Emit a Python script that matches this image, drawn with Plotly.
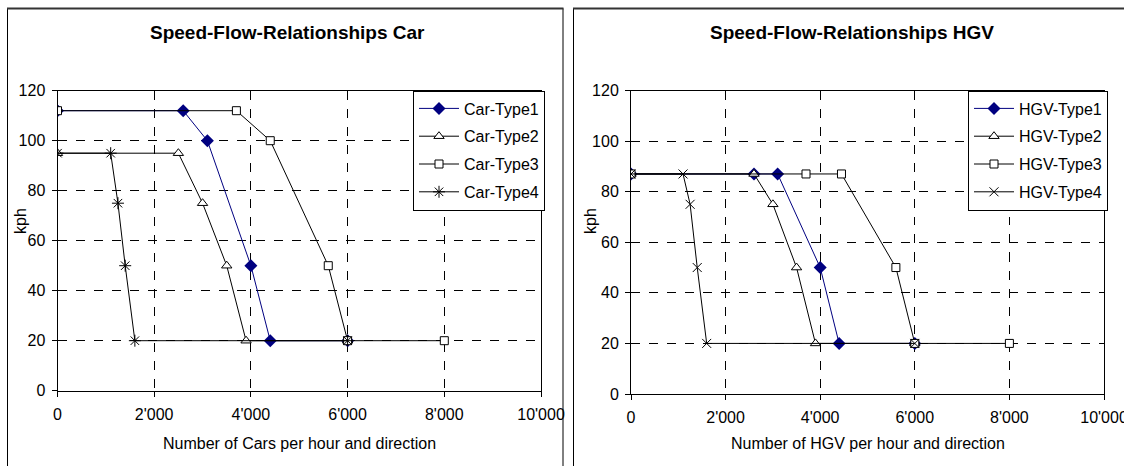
import plotly.graph_objects as go

# ---------------- data ----------------
car_names = ["Car-Type1", "Car-Type2", "Car-Type3", "Car-Type4"]
car_x1 = [0, 2600, 3100, 4000, 4400, 6000]
car_y1 = [112, 112, 100, 50, 20, 20]
car_x2 = [0, 2500, 3000, 3500, 3900, 6000]
car_y2 = [95, 95, 75, 50, 20, 20]
car_x3 = [0, 3700, 4400, 5600, 6000, 8000]
car_y3 = [112, 112, 100, 50, 20, 20]
car_x4 = [0, 1100, 1250, 1400, 1600, 6000]
car_y4 = [95, 95, 75, 50, 20, 20]

hgv_names = ["HGV-Type1", "HGV-Type2", "HGV-Type3", "HGV-Type4"]
hgv_x1 = [0, 2600, 3100, 4000, 4400, 6000]
hgv_y1 = [87, 87, 87, 50, 20, 20]
hgv_x2 = [0, 2600, 3000, 3500, 3900, 6000]
hgv_y2 = [87, 87, 75, 50, 20, 20]
hgv_x3 = [0, 3700, 4450, 5600, 6000, 8000]
hgv_y3 = [87, 87, 87, 50, 20, 20]
hgv_x4 = [0, 1100, 1250, 1400, 1600, 6000]
hgv_y4 = [87, 87, 75, 50, 20, 20]

x_tickvals = [0, 2000, 4000, 6000, 8000, 10000]
x_ticktext = ["0", "2'000", "4'000", "6'000", "8'000", "10'000"]
y_tickvals = [0, 20, 40, 60, 80, 100, 120]

titles = ["Speed-Flow-Relationships Car", "Speed-Flow-Relationships HGV"]
x_titles = ["Number of Cars per hour and direction", "Number of HGV per hour and direction"]
y_title = "kph"

W, H = 1124, 466
FONT = "Liberation Sans, Arial, sans-serif"
NAVY = "#000080"

def px(x):
    return x / W

def py(y):
    return 1 - y / H

fig = go.Figure()

def add_series(xs, ys, name, xa, ya, legend, kind, group):
    common = dict(x=xs, y=ys, name=name, xaxis=xa, yaxis=ya, legend=legend,
                  mode="lines+markers", legendgroup=group)
    if kind == 1:
        fig.add_trace(go.Scatter(**common, line=dict(color=NAVY, width=1),
                                 marker=dict(symbol="diamond", size=10, color=NAVY,
                                             line=dict(color=NAVY, width=0))))
    elif kind == 2:
        fig.add_trace(go.Scatter(**common, line=dict(color="black", width=1),
                                 marker=dict(symbol="triangle-up", size=9, color="white",
                                             line=dict(color="black", width=1))))
    elif kind == 3:
        fig.add_trace(go.Scatter(**common, line=dict(color="black", width=1),
                                 marker=dict(symbol="square", size=8, color="white",
                                             line=dict(color="black", width=1))))
    elif kind == 4:
        fig.add_trace(go.Scatter(**common, line=dict(color="black", width=1),
                                 marker=dict(symbol="asterisk-open", size=10, color="black",
                                             line=dict(color="black", width=1))))
    elif kind == 5:
        fig.add_trace(go.Scatter(**common, line=dict(color="black", width=1),
                                 marker=dict(symbol="x-thin-open", size=9, color="black",
                                             line=dict(color="black", width=1))))

car_sets = [(car_x1, car_y1), (car_x2, car_y2), (car_x3, car_y3), (car_x4, car_y4)]
hgv_sets = [(hgv_x1, hgv_y1), (hgv_x2, hgv_y2), (hgv_x3, hgv_y3), (hgv_x4, hgv_y4)]
for i, ((xs, ys), nm) in enumerate(zip(car_sets, car_names)):
    add_series(xs, ys, nm, "x", "y", "legend", i + 1, "c%d" % i)
for i, ((xs, ys), nm) in enumerate(zip(hgv_sets, hgv_names)):
    add_series(xs, ys, nm, "x2", "y2", "legend2", [1, 2, 3, 5][i], "h%d" % i)

axis_common = dict(showline=True, linecolor="black", linewidth=1, mirror=True,
                   ticks="outside", ticklen=5, tickcolor="black", tickwidth=1,
                   showgrid=True, gridcolor="black", gridwidth=1, griddash="dash",
                   zeroline=False, automargin=False,
                   tickfont=dict(family=FONT, size=16, color="black"))

xcommon = dict(axis_common, range=[0, 10000], tickvals=x_tickvals, ticktext=x_ticktext,
               ticklabelstandoff=4, ticklabeloverflow="allow")
ycommon = dict(axis_common, range=[0, 120], tickvals=y_tickvals, ticklabelstandoff=3)

legend_common = dict(bgcolor="white", bordercolor="black", borderwidth=1,
                     font=dict(family=FONT, size=16, color="black"),
                     xanchor="left", yanchor="top", traceorder="grouped",
                     tracegroupgap=4, itemwidth=40)

fig.update_layout(
    width=W, height=H,
    margin=dict(l=0, r=0, t=0, b=0, pad=0, autoexpand=False),
    paper_bgcolor="white", plot_bgcolor="white",
    showlegend=True,
    xaxis=dict(xcommon, domain=[px(57.5), px(541)], anchor="y"),
    yaxis=dict(ycommon, domain=[py(390.7), py(90.7)], anchor="x"),
    xaxis2=dict(xcommon, domain=[px(631), px(1104)], anchor="y2"),
    yaxis2=dict(ycommon, domain=[py(394), py(90.5)], anchor="x2"),
    legend=dict(legend_common, x=px(413), y=py(90.5)),
    legend2=dict(legend_common, x=px(968), y=py(90.5)),
)

annotations = []
for cx, t in zip([287, 852], titles):
    annotations.append(dict(x=px(cx), y=py(33), xref="paper", yref="paper", text="<b>%s</b>" % t,
                            showarrow=False, xanchor="center", yanchor="middle",
                            font=dict(family=FONT, size=19, color="black")))
for cx, t in zip([300, 868], x_titles):
    annotations.append(dict(x=px(cx), y=py(443), xref="paper", yref="paper", text=t,
                            showarrow=False, xanchor="center", yanchor="middle",
                            font=dict(family=FONT, size=16, color="black")))
for cx in [21, 591]:
    annotations.append(dict(x=px(cx), y=py(221), xref="paper", yref="paper", text=y_title,
                            showarrow=False, xanchor="center", yanchor="middle", textangle=-90,
                            font=dict(family=FONT, size=16, color="black")))
fig.update_layout(annotations=annotations)

shapes = [
    dict(type="rect", xref="paper", yref="paper", x0=px(7.5), x1=px(563), y0=-0.2, y1=py(8.5),
         line=dict(color="black", width=1)),
    dict(type="rect", xref="paper", yref="paper", x0=px(573.5), x1=1.2, y0=-0.2, y1=py(8.5),
         line=dict(color="black", width=1)),
    dict(type="line", xref="paper", yref="paper", x0=px(7), x1=px(563.5), y0=py(8.5), y1=py(8.5),
         line=dict(color="#333333", width=2)),
    dict(type="line", xref="paper", yref="paper", x0=px(573), x1=1.0, y0=py(8.5), y1=py(8.5),
         line=dict(color="#333333", width=2)),
]
fig.update_layout(shapes=shapes)

fig.write_html("out.html",
               config={"displayModeBar": False},
               post_script="document.body.style.margin='0px';document.body.style.overflow='hidden';")
